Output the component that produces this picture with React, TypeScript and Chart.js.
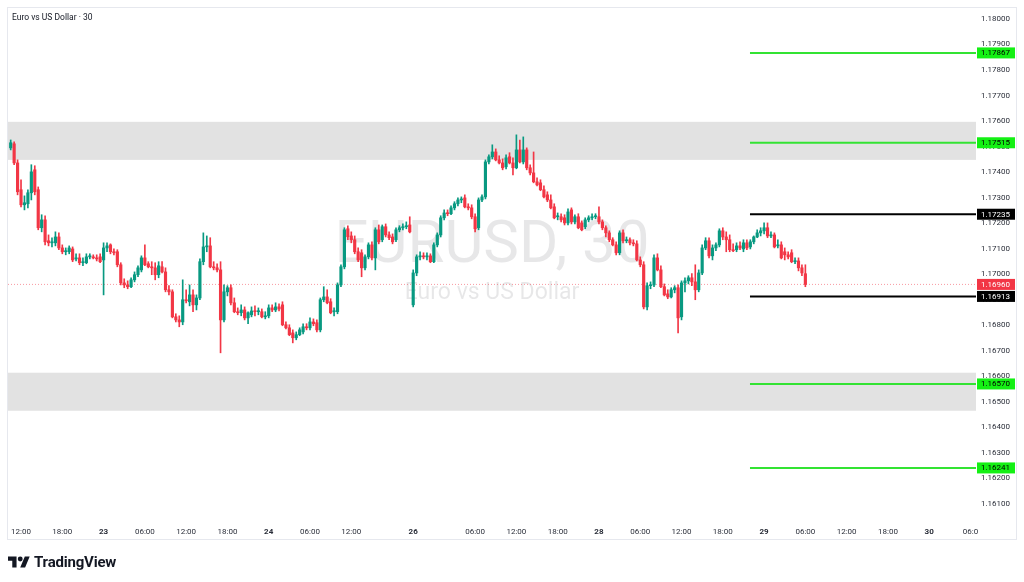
import React, { useEffect, useRef } from "react";
import { Chart, registerables } from "chart.js";
Chart.register(...registerables);

// ---- OHLC data, one 30-minute bar per entry (bar index = array index) ----
const opens = [
  1.17495,1.17511,1.17436,1.17331,1.17272,1.17276,1.17319,1.17409,1.17331,1.17182,
  1.17213,1.17131,1.17123,1.17123,1.17146,1.17103,1.17088,1.17088,1.17099,1.17060,
  1.17064,1.17045,1.17045,1.17068,1.17068,1.17064,1.17068,1.17056,1.17103,1.17115,
  1.17088,1.17088,1.17037,1.16966,1.16958,1.16951,1.16978,1.16998,1.17017,1.17064,
  1.17041,1.17029,1.17025,1.16998,1.17029,1.17009,1.16939,1.16931,1.16833,1.16821,
  1.16813,1.16900,1.16892,1.16919,1.16880,1.16907,1.17049,1.17107,1.17111,1.17029,
  1.17025,1.17017,1.16821,1.16931,1.16947,1.16888,1.16853,1.16849,1.16860,1.16829,
  1.16841,1.16856,1.16853,1.16853,1.16833,1.16837,1.16868,1.16860,1.16872,1.16880,
  1.16802,1.16790,1.16770,1.16751,1.16763,1.16774,1.16794,1.16790,1.16813,1.16810,
  1.16782,1.16900,1.16911,1.16892,1.16853,1.16853,1.16958,1.17029,1.17178,1.17150,
  1.17135,1.17088,1.17084,1.17025,1.17068,1.17115,1.17064,1.17174,1.17135,1.17186,
  1.17154,1.17146,1.17135,1.17174,1.17182,1.17186,1.17193,1.16880,1.17005,1.17068,
  1.17072,1.17068,1.17072,1.17049,1.17115,1.17154,1.17221,1.17240,1.17237,1.17260,
  1.17276,1.17291,1.17299,1.17264,1.17260,1.17225,1.17182,1.17291,1.17303,1.17440,
  1.17460,1.17479,1.17448,1.17436,1.17421,1.17460,1.17436,1.17417,1.17487,1.17440,
  1.17487,1.17417,1.17397,1.17362,1.17358,1.17331,1.17311,1.17291,1.17264,1.17225,
  1.17225,1.17221,1.17201,1.17252,1.17205,1.17225,1.17201,1.17186,1.17213,1.17221,
  1.17225,1.17225,1.17205,1.17182,1.17162,1.17135,1.17115,1.17084,1.17162,1.17131,
  1.17135,1.17123,1.17119,1.17056,1.17037,1.16872,1.16955,1.16958,1.17064,1.17017,
  1.16951,1.16923,1.16911,1.16939,1.16947,1.16833,1.16966,1.16974,1.16986,1.16970,
  1.16939,1.17005,1.17103,1.17131,1.17072,1.17103,1.17115,1.17170,1.17146,1.17135,
  1.17096,1.17096,1.17111,1.17099,1.17123,1.17107,1.17127,1.17146,1.17162,1.17170,
  1.17182,1.17150,1.17154,1.17111,1.17115,1.17088,1.17076,1.17084,1.17049,1.17052,
  1.17025,1.17002,
];
const highs = [
  1.17526,1.17519,1.17448,1.17370,1.17307,1.17331,1.17429,1.17425,1.17342,1.17233,
  1.17229,1.17154,1.17143,1.17166,1.17162,1.17115,1.17103,1.17111,1.17107,1.17080,
  1.17080,1.17064,1.17080,1.17080,1.17076,1.17076,1.17080,1.17123,1.17123,1.17119,
  1.17099,1.17096,1.17045,1.16982,1.16974,1.16986,1.17009,1.17033,1.17072,1.17115,
  1.17049,1.17049,1.17045,1.17049,1.17049,1.17025,1.16955,1.16939,1.16845,1.16837,
  1.16978,1.16939,1.16958,1.16939,1.16919,1.17060,1.17162,1.17150,1.17143,1.17049,
  1.17041,1.17049,1.16958,1.16955,1.16958,1.16907,1.16868,1.16880,1.16872,1.16853,
  1.16872,1.16876,1.16868,1.16864,1.16853,1.16880,1.16880,1.16888,1.16884,1.16892,
  1.16813,1.16802,1.16782,1.16774,1.16790,1.16806,1.16806,1.16829,1.16825,1.16821,
  1.16907,1.16951,1.16939,1.16904,1.16868,1.16966,1.17037,1.17182,1.17190,1.17166,
  1.17150,1.17103,1.17096,1.17076,1.17123,1.17127,1.17182,1.17193,1.17193,1.17197,
  1.17166,1.17158,1.17182,1.17190,1.17197,1.17205,1.17225,1.17017,1.17076,1.17088,
  1.17084,1.17084,1.17080,1.17123,1.17162,1.17229,1.17252,1.17252,1.17268,1.17284,
  1.17299,1.17303,1.17311,1.17276,1.17272,1.17237,1.17299,1.17311,1.17448,1.17468,
  1.17507,1.17491,1.17464,1.17452,1.17468,1.17476,1.17456,1.17546,1.17526,1.17538,
  1.17495,1.17429,1.17479,1.17378,1.17370,1.17346,1.17323,1.17311,1.17276,1.17240,
  1.17237,1.17233,1.17256,1.17260,1.17233,1.17237,1.17209,1.17221,1.17229,1.17237,
  1.17237,1.17264,1.17213,1.17190,1.17170,1.17143,1.17127,1.17170,1.17174,1.17146,
  1.17143,1.17135,1.17131,1.17068,1.17049,1.16966,1.16970,1.17076,1.17080,1.17033,
  1.16962,1.16939,1.16947,1.16955,1.16958,1.16974,1.16986,1.16994,1.17002,1.17037,
  1.17017,1.17115,1.17143,1.17143,1.17115,1.17123,1.17178,1.17182,1.17166,1.17154,
  1.17119,1.17123,1.17127,1.17135,1.17135,1.17135,1.17150,1.17174,1.17182,1.17201,
  1.17201,1.17166,1.17162,1.17135,1.17127,1.17103,1.17088,1.17096,1.17064,1.17064,
  1.17037,1.17037,
];
const lows = [
  1.17487,1.17429,1.17311,1.17264,1.17252,1.17260,1.17291,1.17311,1.17174,1.17166,
  1.17115,1.17111,1.17107,1.17111,1.17096,1.17080,1.17076,1.17080,1.17049,1.17052,
  1.17037,1.17033,1.17041,1.17060,1.17060,1.17052,1.17045,1.16919,1.17088,1.17080,
  1.17076,1.17029,1.16958,1.16947,1.16943,1.16947,1.16970,1.16990,1.17009,1.17033,
  1.17025,1.16998,1.16978,1.16986,1.17005,1.16931,1.16919,1.16829,1.16813,1.16794,
  1.16802,1.16888,1.16876,1.16853,1.16860,1.16900,1.17037,1.17088,1.17025,1.17017,
  1.17009,1.16692,1.16813,1.16915,1.16880,1.16849,1.16841,1.16837,1.16821,1.16806,
  1.16833,1.16837,1.16841,1.16829,1.16825,1.16829,1.16853,1.16853,1.16856,1.16798,
  1.16786,1.16759,1.16731,1.16743,1.16759,1.16766,1.16782,1.16782,1.16798,1.16774,
  1.16774,1.16892,1.16884,1.16845,1.16837,1.16845,1.16951,1.17021,1.17135,1.17123,
  1.17080,1.17049,1.16990,1.17017,1.17060,1.17056,1.17017,1.17119,1.17127,1.17146,
  1.17135,1.17119,1.17127,1.17166,1.17174,1.17178,1.17162,1.16872,1.16994,1.17056,
  1.17060,1.17056,1.17045,1.17045,1.17107,1.17146,1.17213,1.17229,1.17233,1.17252,
  1.17268,1.17280,1.17260,1.17252,1.17217,1.17166,1.17174,1.17284,1.17295,1.17432,
  1.17452,1.17444,1.17432,1.17409,1.17413,1.17432,1.17389,1.17413,1.17436,1.17432,
  1.17409,1.17389,1.17358,1.17346,1.17327,1.17299,1.17284,1.17256,1.17217,1.17213,
  1.17205,1.17193,1.17193,1.17197,1.17197,1.17178,1.17170,1.17178,1.17205,1.17213,
  1.17217,1.17197,1.17174,1.17146,1.17127,1.17111,1.17076,1.17076,1.17123,1.17123,
  1.17115,1.17111,1.17052,1.17029,1.16864,1.16860,1.16943,1.16951,1.17013,1.16947,
  1.16915,1.16904,1.16907,1.16927,1.16770,1.16821,1.16931,1.16962,1.16955,1.16900,
  1.16931,1.16998,1.17096,1.17064,1.17056,1.17092,1.17107,1.17135,1.17088,1.17088,
  1.17088,1.17088,1.17096,1.17088,1.17096,1.17099,1.17119,1.17143,1.17150,1.17158,
  1.17143,1.17143,1.17103,1.17103,1.17060,1.17056,1.17060,1.17045,1.17041,1.17013,
  1.16994,1.16951,
];
const closes = [
  1.17515,1.17436,1.17323,1.17272,1.17280,1.17319,1.17401,1.17323,1.17182,1.17213,
  1.17127,1.17123,1.17127,1.17146,1.17103,1.17088,1.17092,1.17103,1.17056,1.17064,
  1.17045,1.17049,1.17068,1.17072,1.17064,1.17060,1.17049,1.17103,1.17111,1.17088,
  1.17084,1.17037,1.16966,1.16958,1.16951,1.16978,1.16998,1.17025,1.17064,1.17037,
  1.17029,1.17025,1.16998,1.17033,1.17009,1.16939,1.16931,1.16833,1.16821,1.16813,
  1.16900,1.16896,1.16919,1.16880,1.16907,1.17049,1.17107,1.17111,1.17029,1.17025,
  1.17017,1.16821,1.16931,1.16947,1.16888,1.16853,1.16849,1.16860,1.16829,1.16849,
  1.16856,1.16853,1.16853,1.16833,1.16837,1.16868,1.16860,1.16872,1.16864,1.16802,
  1.16790,1.16763,1.16751,1.16763,1.16782,1.16794,1.16790,1.16813,1.16806,1.16782,
  1.16900,1.16911,1.16888,1.16849,1.16856,1.16958,1.17029,1.17174,1.17146,1.17135,
  1.17088,1.17056,1.17025,1.17068,1.17115,1.17064,1.17174,1.17127,1.17186,1.17154,
  1.17143,1.17127,1.17174,1.17182,1.17186,1.17190,1.17166,1.17005,1.17068,1.17072,
  1.17068,1.17072,1.17049,1.17115,1.17154,1.17221,1.17240,1.17237,1.17260,1.17276,
  1.17291,1.17295,1.17264,1.17260,1.17225,1.17178,1.17291,1.17303,1.17440,1.17460,
  1.17479,1.17448,1.17436,1.17417,1.17456,1.17436,1.17417,1.17487,1.17440,1.17487,
  1.17417,1.17397,1.17362,1.17350,1.17331,1.17303,1.17291,1.17260,1.17221,1.17229,
  1.17213,1.17201,1.17244,1.17205,1.17225,1.17182,1.17174,1.17213,1.17221,1.17225,
  1.17229,1.17205,1.17182,1.17162,1.17135,1.17115,1.17084,1.17162,1.17131,1.17135,
  1.17123,1.17119,1.17056,1.17037,1.16872,1.16955,1.16958,1.17064,1.17017,1.16951,
  1.16919,1.16911,1.16939,1.16947,1.16829,1.16966,1.16974,1.16986,1.16970,1.16939,
  1.17005,1.17103,1.17131,1.17072,1.17103,1.17115,1.17170,1.17146,1.17135,1.17096,
  1.17092,1.17111,1.17103,1.17123,1.17103,1.17127,1.17146,1.17162,1.17170,1.17182,
  1.17150,1.17154,1.17107,1.17115,1.17064,1.17076,1.17068,1.17049,1.17052,1.17025,
  1.17005,1.16960,
];

// ---- axes ----
const priceTicks = [
  1.161, 1.162, 1.163, 1.164, 1.165, 1.166, 1.167, 1.168, 1.169, 1.17,
  1.171, 1.172, 1.173, 1.174, 1.175, 1.176, 1.177, 1.178, 1.179, 1.18,
];
const timeTickBars = [3, 15, 27, 39, 51, 63, 75, 87, 99, 117, 135, 147, 159, 171, 183, 195, 207, 219, 231, 243, 255, 267, 279];
const timeTickLabels = ["12:00", "18:00", "23", "06:00", "12:00", "18:00", "24", "06:00", "12:00", "26", "06:00", "12:00", "18:00", "28", "06:00", "12:00", "18:00", "29", "06:00", "12:00", "18:00", "30", "06:0"];
const dayLabels = ["23", "24", "26", "28", "29", "30"];
const barRange = [-0.785, 280.6];
const priceRange = [1.16037, 1.18043];

// ---- drawings ----
const greenLevels = [1.17867, 1.17515, 1.1657, 1.16241];
const blackLevels = [1.17235, 1.16913];
const levelStartBar = 214.9;
const lastPrice = 1.1696;
const zoneLows = [1.17448, 1.16465];
const zoneHighs = [1.17597, 1.16614];

const UP = "#089981";
const DOWN = "#f23645";
const LEVEL_GREEN = "#33e333";
const LABEL_GREEN = "#14f014";
const FONT = "Roboto, 'Noto Sans', sans-serif";

const overlayPlugin = {
  id: "overlay",
  beforeDatasetsDraw(chart: any) {
    const { ctx, chartArea: a, scales } = chart;
    const y = scales.y;
    ctx.save();
    ctx.fillStyle = "#e2e2e2";
    zoneLows.forEach((lo, k) => {
      const top = y.getPixelForValue(zoneHighs[k]);
      const bot = y.getPixelForValue(lo);
      ctx.fillRect(a.left, top, a.right - a.left, bot - top);
    });
    const cx = (a.left + a.right) / 2;
    const cy = (a.top + a.bottom) / 2;
    ctx.fillStyle = "rgba(19,23,34,0.1)";
    ctx.textAlign = "center";
    ctx.textBaseline = "middle";
    ctx.font = `400 60px ${FONT}`;
    ctx.fillText("EURUSD, 30", cx, cy - 17);
    ctx.font = `400 23px ${FONT}`;
    ctx.fillText("Euro vs US Dollar", cx, cy + 29);
    ctx.restore();
  },
  afterDraw(chart: any) {
    const { ctx, scales } = chart;
    const y = scales.y;
    const marks = [
      ...greenLevels.map((v) => ({ v, bg: LABEL_GREEN, fg: "#000" })),
      ...blackLevels.map((v) => ({ v, bg: "#000", fg: "#fff" })),
      { v: lastPrice, bg: DOWN, fg: "#fff" },
    ];
    ctx.save();
    ctx.font = `8px ${FONT}`;
    ctx.textBaseline = "middle";
    ctx.textAlign = "left";
    marks.forEach((m) => {
      const py = y.getPixelForValue(m.v);
      ctx.fillStyle = m.bg;
      ctx.fillRect(y.left + 1, py - 5.5, 38, 11);
      ctx.fillStyle = m.fg;
      ctx.fillText(m.v.toFixed(5), y.left + 5, py + 0.5);
    });
    ctx.restore();
  },
};

export default function App() {
  const ref = useRef<HTMLCanvasElement>(null);
  useEffect(() => {
    const idx = closes.map((_, i) => i);
    const colors = closes.map((c, i) => (c >= opens[i] ? UP : DOWN));
    const levelLine = (v: number, color: string) => ({
      type: "line",
      data: [
        { x: levelStartBar, y: v },
        { x: barRange[1], y: v },
      ],
      borderColor: color,
      borderWidth: 2,
      pointRadius: 0,
      order: 0,
    });
    const chart = new Chart(ref.current as HTMLCanvasElement, {
      type: "bar",
      data: {
        datasets: [
          {
            type: "bar",
            data: idx.map((i) => ({ x: i, y: [opens[i], closes[i]] })),
            backgroundColor: colors,
            barThickness: 2.5,
            minBarLength: 1,
            grouped: false,
            borderWidth: 0,
            order: 1,
          },
          {
            type: "bar",
            data: idx.map((i) => ({ x: i, y: [lows[i], highs[i]] })),
            backgroundColor: colors,
            barThickness: 1,
            grouped: false,
            borderWidth: 0,
            order: 2,
          },
          {
            type: "line",
            data: [
              { x: barRange[0], y: lastPrice },
              { x: barRange[1], y: lastPrice },
            ],
            borderColor: "rgba(242,54,69,0.5)",
            borderDash: [1, 2],
            borderWidth: 1,
            pointRadius: 0,
            order: 3,
          },
          ...greenLevels.map((v) => levelLine(v, LEVEL_GREEN)),
          ...blackLevels.map((v) => levelLine(v, "#000")),
        ] as any,
      },
      options: {
        animation: false,
        responsive: false,
        devicePixelRatio: 1,
        events: [],
        layout: { padding: { left: 8, top: 8, right: 8, bottom: 37 } },
        plugins: { legend: { display: false }, tooltip: { enabled: false }, title: { display: false } },
        scales: {
          x: {
            type: "linear",
            min: barRange[0],
            max: barRange[1],
            offset: false,
            grid: { display: false, drawTicks: false },
            border: { display: false },
            afterBuildTicks: (s: any) => {
              s.ticks = timeTickBars.map((v) => ({ value: v }));
            },
            afterFit: (s: any) => {
              s.height = 25;
              s.paddingLeft = 0;
              s.paddingRight = 0;
            },
            ticks: {
              autoSkip: false,
              maxRotation: 0,
              minRotation: 0,
              padding: 7,
              color: "#2a2e39",
              font: (c: any) => ({
                family: FONT,
                size: 8,
                weight: dayLabels.includes(timeTickLabels[c.index]) ? "bold" : "normal",
              }),
              callback: (_v: any, i: number) => timeTickLabels[i],
            },
          },
          y: {
            type: "linear",
            position: "right",
            min: priceRange[0],
            max: priceRange[1],
            grid: { display: false, drawTicks: false },
            border: { display: false },
            afterBuildTicks: (s: any) => {
              s.ticks = priceTicks.map((v) => ({ value: v }));
            },
            afterFit: (s: any) => {
              s.width = 40;
              s.paddingTop = 0;
              s.paddingBottom = 0;
            },
            ticks: {
              padding: 5,
              color: "#2a2e39",
              font: { family: FONT, size: 8 },
              callback: (v: any) => Number(v).toFixed(5),
            },
          },
        },
      } as any,
      plugins: [overlayPlugin],
    });
    return () => chart.destroy();
  }, []);

  return (
    <div style={{ position: "fixed", left: 0, top: 0, width: 1024, height: 582, background: "#fff", overflow: "hidden" }}>
      <div
        style={{
          position: "absolute",
          left: 7,
          top: 7,
          width: 1010,
          height: 533,
          border: "1px solid #e6e8ee",
          boxSizing: "border-box",
        }}
      />
      <canvas ref={ref} width={1024} height={582} style={{ position: "absolute", left: 0, top: 0, width: 1024, height: 582 }} />
      <div
        style={{
          position: "absolute",
          left: 12,
          top: 12,
          fontFamily: FONT,
          fontSize: 8.5,
          color: "#131722",
          lineHeight: "11px",
          whiteSpace: "nowrap",
        }}
      >
        Euro vs US Dollar · 30
      </div>
      <div style={{ position: "absolute", left: 8, top: 553, display: "flex", alignItems: "center", gap: 4 }}>
        <svg width="22" height="14" viewBox="0 2 36 22">
          <path d="M14 22H7V11H0V4h14v18zM28 22h-8l7.5-18h8L28 22z" fill="#131722" />
          <circle cx="20" cy="8" r="4" fill="#131722" />
        </svg>
        <span style={{ fontFamily: FONT, fontSize: 15, fontWeight: 700, color: "#131722", letterSpacing: -0.2 }}>
          TradingView
        </span>
      </div>
    </div>
  );
}
